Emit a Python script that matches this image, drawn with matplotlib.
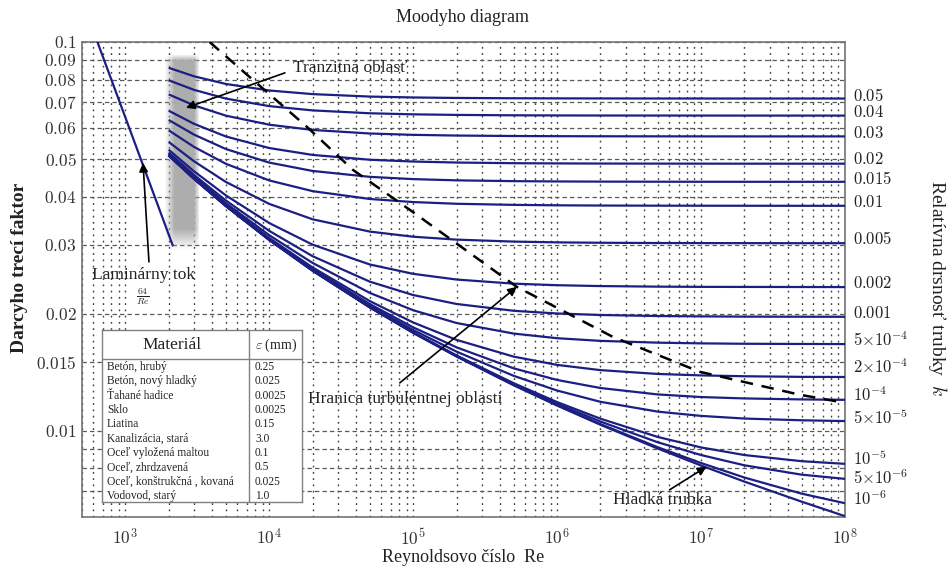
import numpy as np
import matplotlib
matplotlib.use('Agg')
import matplotlib.pyplot as plt
from matplotlib.ticker import NullFormatter

plt.rcParams['mathtext.fontset'] = 'cm'
plt.rcParams['font.family'] = ['Liberation Serif', 'DejaVu Serif']

# ---------------- data ----------------
re_pts = [2e3, 3e3, 5e3, 1e4, 2e4, 5e4, 1e5, 2e5, 5e5, 1e6, 2e6, 5e6, 1e7, 2e7, 5e7, 1e8]

f_k_0_05 = [0.08584, 0.08162, 0.07799, 0.07504, 0.07344, 0.07238, 0.07200, 0.07179, 0.07166, 0.07161, 0.07159, 0.07156, 0.07156, 0.07155, 0.07155, 0.07155]
f_k_0_04 = [0.07972, 0.07532, 0.07152, 0.06840, 0.06669, 0.06556, 0.06515, 0.06493, 0.06478, 0.06473, 0.06470, 0.06469, 0.06468, 0.06467, 0.06467, 0.06467]
f_k_0_03 = [0.07334, 0.06870, 0.06464, 0.06127, 0.05940, 0.05816, 0.05770, 0.05746, 0.05730, 0.05724, 0.05721, 0.05719, 0.05718, 0.05717, 0.05717, 0.05717]
f_k_0_02 = [0.06658, 0.06159, 0.05714, 0.05336, 0.05123, 0.04979, 0.04926, 0.04897, 0.04878, 0.04872, 0.04868, 0.04866, 0.04865, 0.04864, 0.04864, 0.04864]
f_k_0_015 = [0.06302, 0.05778, 0.05304, 0.04895, 0.04659, 0.04499, 0.04439, 0.04407, 0.04386, 0.04378, 0.04374, 0.04371, 0.04370, 0.04369, 0.04369, 0.04369]
f_k_0_01 = [0.05928, 0.05372, 0.04860, 0.04404, 0.04134, 0.03946, 0.03875, 0.03836, 0.03811, 0.03801, 0.03796, 0.03793, 0.03792, 0.03791, 0.03790, 0.03790]
f_k_0_005 = [0.05533, 0.04935, 0.04364, 0.03833, 0.03499, 0.03253, 0.03156, 0.03102, 0.03066, 0.03052, 0.03045, 0.03040, 0.03039, 0.03038, 0.03037, 0.03037]
f_k_0_002 = [0.05283, 0.04650, 0.04030, 0.03422, 0.03011, 0.02677, 0.02533, 0.02449, 0.02390, 0.02368, 0.02356, 0.02348, 0.02345, 0.02344, 0.02343, 0.02342]
f_k_0_001 = [0.05197, 0.04551, 0.03910, 0.03267, 0.02812, 0.02418, 0.02234, 0.02119, 0.02035, 0.02003, 0.01985, 0.01973, 0.01969, 0.01966, 0.01965, 0.01964]
f_k_5e_4 = [0.05153, 0.04500, 0.03848, 0.03184, 0.02702, 0.02262, 0.02042, 0.01893, 0.01778, 0.01730, 0.01703, 0.01685, 0.01678, 0.01674, 0.01672, 0.01671]
f_k_2e_4 = [0.05127, 0.04470, 0.03810, 0.03132, 0.02631, 0.02155, 0.01899, 0.01713, 0.01551, 0.01477, 0.01432, 0.01400, 0.01388, 0.01381, 0.01376, 0.01375]
f_k_1e_4 = [0.05118, 0.04459, 0.03797, 0.03115, 0.02606, 0.02117, 0.01845, 0.01639, 0.01447, 0.01351, 0.01288, 0.01240, 0.01221, 0.01211, 0.01204, 0.01201]
f_k_5e_5 = [0.05114, 0.04454, 0.03791, 0.03106, 0.02594, 0.02097, 0.01816, 0.01598, 0.01384, 0.01269, 0.01187, 0.01120, 0.01092, 0.01075, 0.01064, 0.01059]
f_k_1e_5 = [0.05110, 0.04450, 0.03786, 0.03099, 0.02584, 0.02080, 0.01792, 0.01562, 0.01325, 0.01185, 0.01074, 0.00964, 0.00906, 0.00866, 0.00835, 0.00822]
f_k_5e_6 = [0.05109, 0.04449, 0.03785, 0.03098, 0.02583, 0.02078, 0.01789, 0.01558, 0.01317, 0.01173, 0.01056, 0.00934, 0.00866, 0.00815, 0.00771, 0.00752]
f_k_1e_6 = [0.05109, 0.04449, 0.03785, 0.03097, 0.02582, 0.02077, 0.01787, 0.01554, 0.01311, 0.01163, 0.01040, 0.00907, 0.00826, 0.00758, 0.00689, 0.00651]
f_smooth = [0.05109, 0.04449, 0.03785, 0.03097, 0.02581, 0.02076, 0.01786, 0.01553, 0.01309, 0.01161, 0.01036, 0.00900, 0.00814, 0.00740, 0.00657, 0.00603]

rough_labels = [r'$0.05$', r'$0.04$', r'$0.03$', r'$0.02$', r'$0.015$', r'$0.01$',
                r'$0.005$', r'$0.002$', r'$0.001$', r'$5{\times}10^{-4}$', r'$2{\times}10^{-4}$',
                r'$10^{-4}$', r'$5{\times}10^{-5}$', r'$10^{-5}$', r'$5{\times}10^{-6}$', r'$10^{-6}$']

lam_re = [640, 2133]
lam_f = [0.1, 0.03]

tb_re = [3850, 7700, 18260, 38090, 94800, 524500, 2.436e6, 9.79e6, 4.84e7, 1e8]
tb_f = [0.1, 0.0799, 0.0605, 0.0469, 0.0370, 0.02345, 0.01744, 0.01418, 0.01238, 0.0118]

y_ticks = [0.1, 0.09, 0.08, 0.07, 0.06, 0.05, 0.04, 0.03, 0.02, 0.015, 0.01]
y_tick_labels = [r'$0.1$', r'$0.09$', r'$0.08$', r'$0.07$', r'$0.06$', r'$0.05$', r'$0.04$',
                 r'$0.03$', r'$0.02$', r'$0.015$', r'$0.01$']
y_minor = [0.009, 0.008, 0.007]
x_ticks = [1e3, 1e4, 1e5, 1e6, 1e7, 1e8]
x_tick_labels = [r'$10^{3}$', r'$10^{4}$', r'$10^{5}$', r'$10^{6}$', r'$10^{7}$', r'$10^{8}$']

materials = ['Betón, hrubý', 'Betón, nový hladký', 'Ťahané hadice', 'Sklo', 'Liatina',
             'Kanalizácia, stará', 'Oceľ vyložená maltou', 'Oceľ, zhrdzavená',
             'Oceľ, konštrukčná , kovaná', 'Vodovod, starý']
eps_mm = ['0.25', '0.025', '0.0025', '0.0025', '0.15', '3.0', '0.1', '0.5', '0.025', '1.0']

# ---------------- layout / style ----------------
W, H = 950, 568
NAVY = '#1c1f82'
# y positions of the right-hand labels (in f units)
label_y = [0.0722, 0.0657, 0.0580, 0.0497, 0.0444, 0.0386, 0.0310, 0.0239, 0.0200,
           0.0171, 0.0145, 0.0123, 0.0108, 0.00845, 0.00752, 0.00667]

fig = plt.figure(figsize=(W / 100, H / 100), dpi=100)
ax = fig.add_axes([82 / W, 1 - 517 / H, (845 - 82) / W, (517 - 42) / H])
ax.set_xscale('log')
ax.set_yscale('log')

curves = [f_k_0_05, f_k_0_04, f_k_0_03, f_k_0_02, f_k_0_015, f_k_0_01, f_k_0_005,
          f_k_0_002, f_k_0_001, f_k_5e_4, f_k_2e_4, f_k_1e_4, f_k_5e_5, f_k_1e_5,
          f_k_5e_6, f_k_1e_6, f_smooth]
for fv in curves:
    ax.plot(re_pts, fv, color=NAVY, lw=1.6, zorder=4, solid_capstyle='butt')
ax.plot(lam_re, lam_f, color=NAVY, lw=1.6, zorder=4)
ax.plot(tb_re, tb_f, color='black', lw=1.8, ls=(0, (5, 3.5)), zorder=5)

# blurred grey transition band
nx, ny = 80, 200
xs = np.linspace(0, 1, nx)
ys = np.linspace(0, 1, ny)
ax_x = np.clip(np.minimum(xs, 1 - xs) / 0.22, 0, 1)
ax_y = np.clip(np.minimum(ys, 1 - ys) / 0.06, 0, 1)
alpha = np.outer(ax_y, ax_x)
img = np.zeros((ny, nx, 4))
img[..., :3] = 0.68
img[..., 3] = alpha
ax.imshow(img, extent=(1860, 3300, 0.0290, 0.0930), aspect='auto',
          interpolation='bilinear', zorder=2, origin='lower')

ax.set_xlim(500, 1e8)
ax.set_ylim(0.006, 0.1)

ax.set_xticks(x_ticks, labels=x_tick_labels)
minor_x = [m * 10 ** e for e in range(2, 8) for m in range(2, 10) if 500 <= m * 10 ** e <= 1e8]
ax.set_xticks(minor_x, minor=True)
ax.xaxis.set_minor_formatter(NullFormatter())
ax.set_yticks(y_ticks, labels=y_tick_labels)
ax.set_yticks(y_minor, minor=True)
ax.yaxis.set_minor_formatter(NullFormatter())
ax.tick_params(axis='both', which='both', length=0, labelsize=12.5, colors='#333333')
ax.tick_params(axis='x', pad=8)
ax.tick_params(axis='y', pad=4)

ax.xaxis.grid(True, which='both', linestyle=(0, (1.3, 3.2)), color='0.25', lw=1.0, zorder=1)
ax.yaxis.grid(True, which='both', linestyle=(0, (3.5, 2.5)), color='0.35', lw=0.9, zorder=1)
ax.set_axisbelow(True)
for s in ax.spines.values():
    s.set_color('0.45')
    s.set_linewidth(1.2)

# right labels
ytrans = ax.get_yaxis_transform()
for lab, yv in zip(rough_labels, label_y):
    ax.text(1.0105, yv, lab, transform=ytrans, ha='left', va='center',
            fontsize=12, color='#222222', clip_on=False)

# annotations
arrow = dict(arrowstyle='-|>', color='black', lw=1.2, mutation_scale=13,
             shrinkA=0, shrinkB=0)
ax.annotate('', xy=(2636, 0.0677), xytext=(12850, 0.0833), arrowprops=arrow, zorder=6)
ax.text(14600, 0.0857, 'Tranzitná oblasť', fontsize=12.5, va='center', ha='left',
        color='#222222', zorder=6)
ax.annotate('', xy=(1327, 0.0489), xytext=(1459, 0.0272), arrowprops=arrow, zorder=6)
ax.text(587, 0.0252, 'Laminárny tok', fontsize=12.5, va='center', ha='left',
        color='#222222', zorder=6)
ax.text(1327, 0.0221, r'$\frac{64}{Re}$', fontsize=10, va='center', ha='center',
        color='#222222', zorder=6)
ax.annotate('', xy=(524500, 0.02345), xytext=(80700, 0.01328), arrowprops=arrow, zorder=6)
ax.text(18560, 0.01209, 'Hranica turbulentnej oblasti', fontsize=12.5, va='center',
        ha='left', color='#222222', zorder=6)
ax.annotate('', xy=(1.09e7, 0.00808), xytext=(6.05e6, 0.00705), arrowprops=arrow, zorder=6)
ax.text(2.43e6, 0.00665, 'Hladká trubka', fontsize=12.5, va='center', ha='left',
        color='#222222', zorder=6)

# titles
fig.text(463 / W, 1 - 18 / H, 'Moodyho diagram', ha='center', va='center',
         fontsize=13, color='#222222')
fig.text(463 / W, 1 - 557 / H, 'Reynoldsovo číslo  Re', ha='center', va='center',
         fontsize=13, color='#222222')
fig.text(20 / W, 1 - 268 / H, 'Darcyho trecí faktor', ha='center', va='center',
         rotation=90, fontsize=14, fontweight='bold', color='#222222')
fig.text(938 / W, 1 - 288 / H, 'Relatívna drsnosť trubky  $k$', ha='center',
         va='center', rotation=270, fontsize=14, color='#222222')

# material table
tx0, ty0, tw, th = 102, 330, 200, 172
at = fig.add_axes([tx0 / W, 1 - (ty0 + th) / H, tw / W, th / H])
at.set_xlim(0, tw)
at.set_ylim(th, 0)
at.set_xticks([])
at.set_yticks([])
at.set_facecolor('white')
at.set_zorder(10)
for s in at.spines.values():
    s.set_color('0.5')
    s.set_linewidth(1.0)
at.plot([0, tw], [29, 29], color='0.5', lw=1.0)
at.plot([147, 147], [0, th], color='0.5', lw=1.0)
at.text(70, 15, 'Materiál', ha='center', va='center', fontsize=12.5, color='#222222')
at.text(174, 15, r'$\varepsilon$ (mm)', ha='center', va='center', fontsize=10,
        color='#222222')
row_y0, row_dy = 37, 14.33
for i, (m, e) in enumerate(zip(materials, eps_mm)):
    yy = row_y0 + i * row_dy
    at.text(5, yy, m, ha='left', va='center', fontsize=8.3, color='#222222')
    at.text(153, yy, e, ha='left', va='center', fontsize=8.3, color='#222222')

fig.savefig('out.png', dpi=100)
